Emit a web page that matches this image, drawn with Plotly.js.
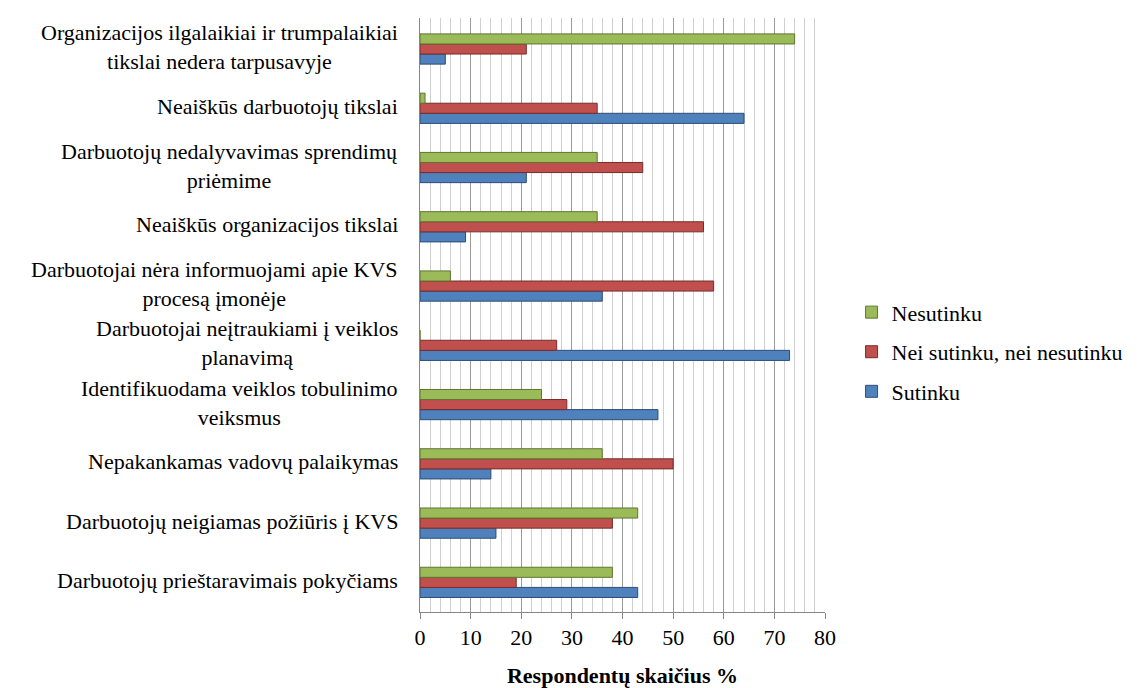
<!DOCTYPE html>
<html>
<head>
<meta charset="utf-8">
<script src="https://cdn.plot.ly/plotly-3.0.1.min.js"></script>
<style>html,body{margin:0;padding:0;background:#fff;}#chart{width:1139px;height:688px;}</style>
</head>
<body>
<div id="chart"></div>
<script>
// Categories listed top to bottom as in the chart
const categories = [
  "Organizacijos ilgalaikiai ir trumpalaikiai<br>tikslai nedera tarpusavyje",
  "Neaiškūs darbuotojų tikslai",
  "Darbuotojų nedalyvavimas sprendimų<br>priėmime",
  "Neaiškūs organizacijos tikslai",
  "Darbuotojai nėra informuojami apie KVS<br>procesą įmonėje",
  "Darbuotojai neįtraukiami į veiklos<br>planavimą",
  "Identifikuodama veiklos tobulinimo<br>veiksmus",
  "Nepakankamas vadovų palaikymas",
  "Darbuotojų neigiamas požiūris į KVS",
  "Darbuotojų prieštaravimais pokyčiams"
];
const sutinku    = [5, 64, 21, 9, 36, 73, 47, 14, 15, 43];
const neiNei     = [21, 35, 44, 56, 58, 27, 29, 50, 38, 19];
const nesutinku  = [74, 1, 35, 35, 6, 0, 24, 36, 43, 38];
const seriesNames = ["Sutinku", "Nei sutinku, nei nesutinku", "Nesutinku"];
const xTicks = [0, 10, 20, 30, 40, 50, 60, 70, 80];

const colors = ["#4F81BD", "#C0504D", "#9BBB59"];
const lines  = ["#2C4D75", "#772C2A", "#5F7530"];
const ranks  = [3, 2, 1];
const vals = [sutinku, neiNei, nesutinku];

const font = "Liberation Serif, serif";
const fs = 22;

const traces = vals.map((v, i) => ({
  type: "bar",
  orientation: "h",
  name: seriesNames[i],
  x: v,
  y: categories,
  legendgroup: "g" + i,
  legendrank: ranks[i],
  marker: {color: colors[i], line: {color: lines[i], width: 1}},
  hoverinfo: "x+name"
}));

const annotations = categories.map(c => ({
  xref: "paper", yref: "y", x: 0, y: c,
  xanchor: "right", yanchor: "middle", xshift: -20, yshift: 2,
  text: c, showarrow: false, align: "center",
  font: {family: font, size: fs, color: "#000"}
}));

const layout = {
  width: 1139, height: 688,
  margin: {l: 420, r: 313, t: 18, b: 76},
  paper_bgcolor: "#fff", plot_bgcolor: "#fff",
  barmode: "group", bargap: 0.49, bargroupgap: 0,
  font: {family: font, size: fs, color: "#000"},
  xaxis: {
    range: [0, 80], tickvals: xTicks, ticktext: xTicks.map(String),
    showgrid: true, gridcolor: "#9a9a9a", gridwidth: 1,
    minor: {dtick: 2, showgrid: true, gridcolor: "#cfcfcf", gridwidth: 1},
    showline: true, linecolor: "#868686", linewidth: 1,
    ticks: "outside", ticklen: 6, tickcolor: "#868686",
    zeroline: false,
    tickfont: {family: font, size: fs, color: "#000"},
    title: {text: "<b>Respondentų skaičius %</b>", font: {family: font, size: fs, color: "#000"}, standoff: 18}
  },
  yaxis: {
    categoryorder: "array", categoryarray: categories.slice().reverse(),
    showticklabels: false, ticks: "",
    showline: true, linecolor: "#868686", linewidth: 1,
    showgrid: false, zeroline: false
  },
  legend: {
    x: 1.063, y: 0.438, xanchor: "left", yanchor: "middle",
    traceorder: "grouped", tracegroupgap: 8,
    font: {family: font, size: fs, color: "#000"},
    itemwidth: 30, bgcolor: "rgba(0,0,0,0)"
  },
  annotations: annotations,
  showlegend: true
};

Plotly.newPlot("chart", traces, layout, {displayModeBar: false, staticPlot: true});
</script>
</body>
</html>
